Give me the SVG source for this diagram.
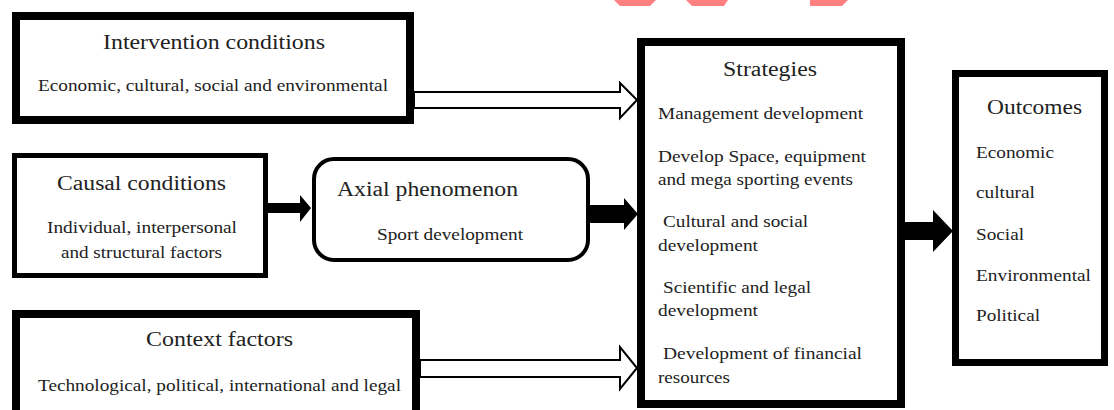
<svg xmlns="http://www.w3.org/2000/svg" width="1114" height="410" viewBox="0 0 1114 410">
<style>
.box{fill:#fff;stroke:#000}
.t{font-family:"Liberation Serif",Tinos,"Times New Roman","DejaVu Serif",serif;fill:#222}
.h{font-size:20px}
.s{font-size:16px}
.hollow{fill:#fff;stroke:#000;stroke-width:2;stroke-linejoin:miter}
.solid{fill:#000}
.wm{fill:#ff8080}
</style>
<rect width="1114" height="410" fill="#fff"/>
<g id="watermark">
<polygon class="wm" points="614,0 656,0 650,6 620,6"/>
<polygon class="wm" points="686,0 728,0 724,6 692,6"/>
<polygon class="wm" points="810,0 848,0 842,6 810,6"/>
</g>
<g id="connectors">
<polygon class="hollow" points="414,92 620,92 620,83 637,100 620,118 620,108 414,108"/>
<polygon class="hollow" points="420,360 620,360 620,347 637,368 620,389 620,377 420,377"/>
<polygon class="solid" points="268,203 300,203 300,195 311,208 300,222 300,213 268,213"/>
<polygon class="solid" points="590,205 624,205 624,198 638,214 624,230 624,223 590,223"/>
<polygon class="solid" points="905,222 933,222 933,210 953,231 933,252 933,240 905,240"/>
</g>
<g id="intervention">
<rect class="box" x="16" y="16" width="394" height="104" stroke-width="8"/>
<text class="t h" x="103" y="49" textLength="222" lengthAdjust="spacingAndGlyphs">Intervention conditions</text>
<text class="t s" x="38" y="91" textLength="350" lengthAdjust="spacingAndGlyphs">Economic, cultural, social and environmental</text>
</g>
<g id="causal">
<rect class="box" x="14.5" y="155.5" width="251" height="120" stroke-width="5"/>
<text class="t h" x="57" y="190" textLength="169" lengthAdjust="spacingAndGlyphs">Causal conditions</text>
<text class="t s" x="47" y="233" textLength="190" lengthAdjust="spacingAndGlyphs">Individual, interpersonal</text>
<text class="t s" x="61" y="258" textLength="161" lengthAdjust="spacingAndGlyphs">and structural factors</text>
</g>
<g id="axial">
<rect class="box" x="314" y="159" width="274" height="101" rx="20" ry="20" stroke-width="4"/>
<text class="t h" x="337" y="196" textLength="181" lengthAdjust="spacingAndGlyphs">Axial phenomenon</text>
<text class="t s" x="377" y="240" textLength="146" lengthAdjust="spacingAndGlyphs">Sport development</text>
</g>
<g id="context">
<rect class="box" x="16" y="314" width="400" height="100" stroke-width="8"/>
<text class="t h" x="146" y="346" textLength="147" lengthAdjust="spacingAndGlyphs">Context factors</text>
<text class="t s" x="38" y="391" textLength="363" lengthAdjust="spacingAndGlyphs">Technological, political, international and legal</text>
</g>
<g id="strategies">
<rect class="box" x="641" y="42" width="260" height="362" stroke-width="8"/>
<text class="t h" x="723" y="76" textLength="94" lengthAdjust="spacingAndGlyphs">Strategies</text>
<text class="t s" x="658" y="119" textLength="205" lengthAdjust="spacingAndGlyphs">Management development</text>
<text class="t s" x="658" y="162" textLength="208" lengthAdjust="spacingAndGlyphs">Develop Space, equipment</text>
<text class="t s" x="658" y="185" textLength="195" lengthAdjust="spacingAndGlyphs">and mega sporting events</text>
<text class="t s" x="663" y="227" textLength="145" lengthAdjust="spacingAndGlyphs">Cultural and social</text>
<text class="t s" x="658" y="251" textLength="100" lengthAdjust="spacingAndGlyphs">development</text>
<text class="t s" x="663" y="293" textLength="148" lengthAdjust="spacingAndGlyphs">Scientific and legal</text>
<text class="t s" x="658" y="316" textLength="100" lengthAdjust="spacingAndGlyphs">development</text>
<text class="t s" x="663" y="359" textLength="199" lengthAdjust="spacingAndGlyphs">Development of financial</text>
<text class="t s" x="658" y="383" textLength="72" lengthAdjust="spacingAndGlyphs">resources</text>
</g>
<g id="outcomes">
<rect class="box" x="955.5" y="73.5" width="149" height="289" stroke-width="7"/>
<text class="t h" x="987" y="114" textLength="95" lengthAdjust="spacingAndGlyphs">Outcomes</text>
<text class="t s" x="976" y="158" textLength="78" lengthAdjust="spacingAndGlyphs">Economic</text>
<text class="t s" x="976" y="198" textLength="59" lengthAdjust="spacingAndGlyphs">cultural</text>
<text class="t s" x="976" y="240" textLength="48" lengthAdjust="spacingAndGlyphs">Social</text>
<text class="t s" x="976" y="281" textLength="115" lengthAdjust="spacingAndGlyphs">Environmental</text>
<text class="t s" x="976" y="321" textLength="64" lengthAdjust="spacingAndGlyphs">Political</text>
</g>
</svg>
